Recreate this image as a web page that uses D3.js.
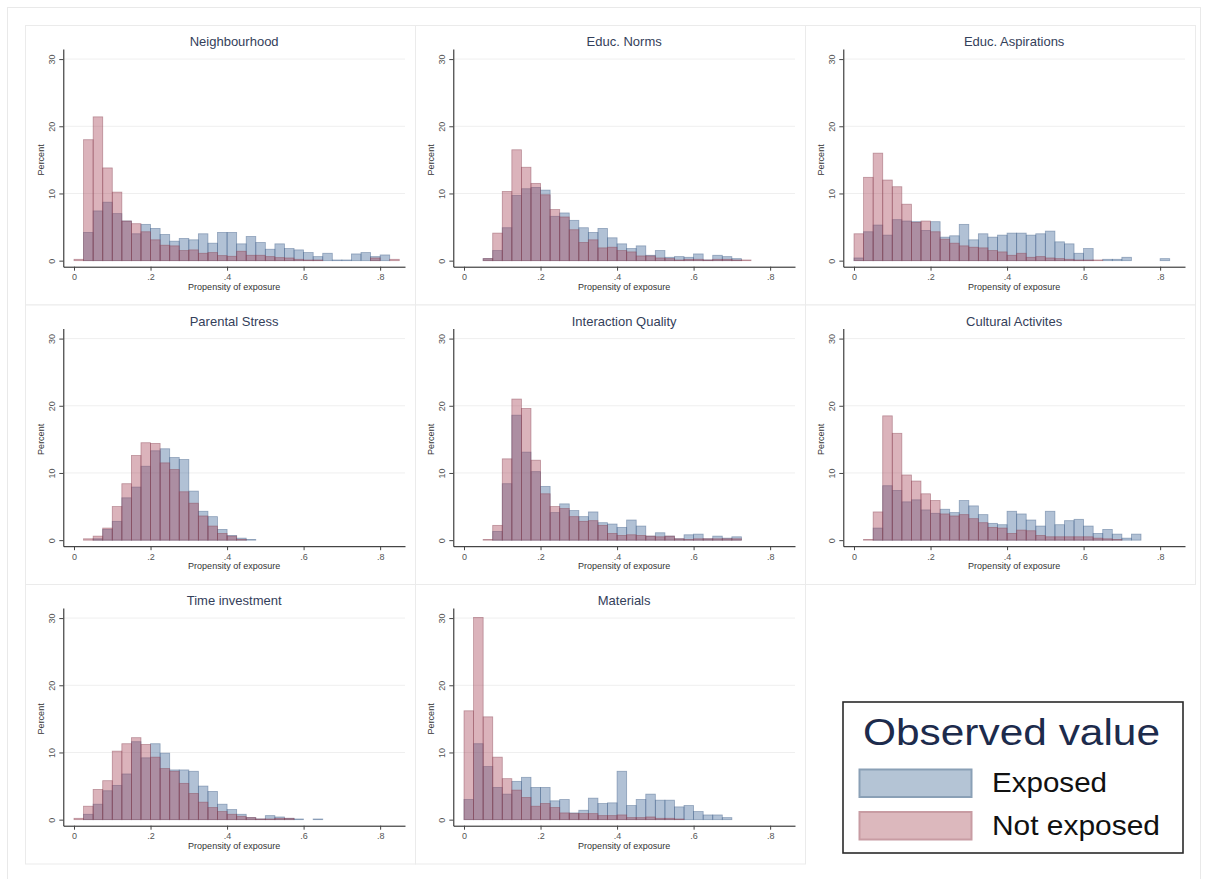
<!DOCTYPE html>
<html>
<head>
<meta charset="utf-8">
<script src="https://cdn.jsdelivr.net/npm/d3@7"></script>
<style>
  html, body { margin: 0; padding: 0; background: #fff; }
  svg { display: block; font-family: "Liberation Sans", Arial, sans-serif; }
</style>
</head>
<body>
<svg id="chart" width="1208" height="879"></svg>
<script>
// bins are 0.025 wide, starting at 0
const binWidth = 0.025;

const panelTitles = [
  "Neighbourhood", "Educ. Norms", "Educ. Aspirations",
  "Parental Stress", "Interaction Quality", "Cultural Activites",
  "Time investment", "Materials"
];

const neighbourhoodExposed    = [0, 4.2, 7.4, 8.7, 7.0, 5.9, 4.0, 5.4, 4.8, 3.9, 2.9, 3.3, 3.1, 4.0, 2.6, 4.2, 4.2, 2.5, 3.6, 2.7, 1.7, 2.5, 1.8, 1.6, 1.2, 0.6, 1.1, 0.1, 0.1, 1.0, 1.2, 0.6, 0.85, 0];
const neighbourhoodNotExposed = [0.2, 18.0, 21.4, 13.8, 10.2, 5.9, 5.5, 4.3, 3.1, 2.3, 2.2, 1.5, 1.6, 1.1, 1.2, 0.75, 0.65, 1.4, 0.8, 0.8, 0.6, 0.45, 0.4, 0.2, 0.1, 0.1, 0, 0, 0, 0, 0, 0.4, 0, 0.2];

const normsExposed    = [0, 0, 0.3, 1.5, 4.9, 9.7, 10.7, 10.9, 10.5, 6.6, 7.1, 6.0, 4.9, 4.2, 4.8, 3.4, 2.5, 1.8, 2.2, 0.8, 1.5, 0.5, 0.6, 0.5, 1.0, 0.1, 0.8, 0.6, 0.3, 0];
const normsNotExposed = [0, 0, 0.3, 4.1, 10.3, 16.5, 13.9, 11.5, 9.8, 7.6, 6.5, 4.6, 2.7, 3.1, 1.9, 2.0, 1.5, 1.3, 0.7, 0.7, 0.4, 0.3, 0.1, 0.2, 0.2, 0.1, 0.2, 0.2, 0.1, 0.1];

const aspirationsExposed    = [0.4, 4.3, 5.3, 3.8, 6.1, 5.9, 5.8, 4.5, 5.8, 3.5, 3.7, 5.4, 3.1, 4.0, 3.5, 3.8, 4.1, 4.1, 3.8, 4.0, 4.4, 2.8, 2.5, 1.1, 1.8, 0, 0.2, 0.2, 0.5, 0, 0, 0, 0.3];
const aspirationsNotExposed = [4.0, 12.4, 16.0, 12.0, 11.0, 8.4, 5.7, 5.9, 4.3, 3.2, 2.6, 2.2, 2.0, 1.9, 1.5, 1.3, 0.8, 1.1, 0.5, 0.6, 0.4, 0.3, 0.2, 0.1, 0.1, 0.1];

const stressExposed    = [0, 0, 0.2, 1.6, 2.8, 6.3, 7.9, 11.0, 13.3, 13.6, 12.3, 12.0, 7.3, 4.3, 3.5, 1.6, 0.7, 0.3, 0.1];
const stressNotExposed = [0, 0.2, 0.6, 1.8, 5.0, 8.4, 12.6, 14.5, 14.4, 11.5, 10.5, 7.2, 5.5, 3.6, 2.1, 1.0, 0.6, 0.1];

const interactionExposed    = [0, 0, 0, 1.3, 8.4, 18.6, 13.1, 10.2, 8.0, 4.1, 5.4, 4.4, 3.5, 4.2, 2.6, 2.4, 1.9, 3.0, 2.1, 0.6, 1.1, 0.6, 0.2, 0.8, 0.9, 0.2, 0.6, 0.3, 0.5];
const interactionNotExposed = [0, 0, 0.1, 2.2, 12.1, 21.0, 19.6, 11.9, 6.9, 5.0, 4.7, 3.5, 2.8, 2.9, 2.2, 1.0, 0.7, 0.8, 0.7, 0.6, 0.5, 0.6, 0.2, 0.1, 0.2, 0.2, 0.2, 0.2, 0.2];

const culturalExposed    = [0, 0, 1.8, 8.1, 7.4, 5.7, 6.0, 4.5, 4.0, 4.6, 4.1, 5.9, 5.1, 3.8, 2.5, 2.3, 4.3, 3.9, 3.0, 2.1, 4.3, 2.3, 2.9, 3.1, 2.1, 1.0, 1.6, 0.9, 0.3, 0.9];
const culturalNotExposed = [0, 0.1, 4.2, 18.5, 15.9, 9.7, 8.8, 6.9, 5.9, 3.9, 3.6, 3.8, 3.2, 2.6, 1.9, 1.8, 1.0, 1.5, 1.4, 0.7, 0.5, 0.5, 0.5, 0.5, 0.5, 0.3, 0.2, 0.1];

const timeExposed    = [0, 0.8, 2.3, 4.3, 5.1, 6.8, 11.6, 9.2, 11.3, 9.9, 7.4, 7.4, 7.2, 5.0, 4.2, 2.3, 1.5, 0.8, 0.3, 0.1, 0.6, 0.4, 0.2, 0.1, 0, 0.1];
const timeNotExposed = [0.2, 2.0, 4.5, 5.8, 10.2, 11.3, 12.2, 11.2, 9.3, 7.6, 7.2, 5.4, 3.9, 2.6, 1.8, 1.2, 0.8, 0.5, 0.3, 0.1, 0.1, 0.2, 0.2];

const materialsExposed    = [3.0, 11.3, 7.9, 4.8, 3.8, 5.7, 6.3, 4.8, 4.8, 2.8, 3.0, 1.0, 1.4, 3.2, 2.4, 2.5, 7.2, 2.1, 3.0, 3.8, 2.9, 2.9, 1.9, 2.1, 1.2, 0.7, 0.7, 0.3];
const materialsNotExposed = [16.2, 30.1, 15.3, 9.3, 6.1, 4.4, 3.3, 2.0, 2.4, 1.8, 1.0, 0.9, 0.9, 0.9, 0.6, 0.6, 0.7, 0.3, 0.3, 0.4, 0.2, 0.2, 0.1];

const exposedSeries = [neighbourhoodExposed, normsExposed, aspirationsExposed, stressExposed,
  interactionExposed, culturalExposed, timeExposed, materialsExposed];
const notExposedSeries = [neighbourhoodNotExposed, normsNotExposed, aspirationsNotExposed, stressNotExposed,
  interactionNotExposed, culturalNotExposed, timeNotExposed, materialsNotExposed];

const xTicks = [0, 0.2, 0.4, 0.6, 0.8];
const xTickLabels = ["0", ".2", ".4", ".6", ".8"];
const yTicks = [0, 10, 20, 30];
const legendLabels = ["Exposed", "Not exposed"];

(function drawPropensityGrid() {
  const svg = d3.select("#chart");

  const blueFill = "rgba(60,100,150,0.40)";
  const blueEdge = "rgba(70,100,140,0.5)";
  const redFill = "rgba(165,65,85,0.40)";
  const redEdge = "rgba(140,70,85,0.5)";

  // outer graph region
  svg.append("rect")
    .attr("x", 7.5).attr("y", 7.5)
    .attr("width", 1193).attr("height", 880)
    .attr("fill", "#fff")
    .attr("stroke", "#e9e9e9");

  const panelW = 390, panelH = 279.5;
  const origin = { x: 25, y: 25 };

  const x = d3.scaleLinear().domain([-0.028, 0.865]).range([38.3, 380]);
  const y = d3.scaleLinear().domain([-0.9, 31.5]).range([241.7, 24]);

  panelTitles.forEach((title, i) => {
    const col = i % 3, row = Math.floor(i / 3);
    const g = svg.append("g")
      .attr("transform", `translate(${origin.x + col * panelW},${origin.y + row * panelH})`);

    g.append("rect")
      .attr("x", 0.5).attr("y", 0.5)
      .attr("width", panelW).attr("height", panelH)
      .attr("fill", "#fff")
      .attr("stroke", "#ebebeb");

    // gridlines
    g.selectAll(".grid")
      .data(yTicks.filter(t => t > 0))
      .enter()
      .append("line")
      .attr("x1", x.range()[0]).attr("x2", x.range()[1])
      .attr("y1", d => y(d)).attr("y2", d => y(d))
      .attr("stroke", "#efefef");

    const drawBars = (values, fill, edge) => {
      g.append("g")
        .selectAll("rect")
        .data(values.map((v, k) => ({ k, v })).filter(d => d.v > 0))
        .enter()
        .append("rect")
        .attr("x", d => x(d.k * binWidth))
        .attr("width", d => x((d.k + 1) * binWidth) - x(d.k * binWidth))
        .attr("y", d => y(d.v))
        .attr("height", d => y(0) - y(d.v))
        .attr("fill", fill)
        .attr("stroke", edge)
        .attr("stroke-width", 0.8);
    };

    drawBars(exposedSeries[i], blueFill, blueEdge);
    drawBars(notExposedSeries[i], redFill, redEdge);

    // axes
    const xAxis = g.append("g")
      .attr("transform", `translate(0,${y.range()[0]})`)
      .call(d3.axisBottom(x).tickValues(xTicks)
        .tickFormat((d, k) => xTickLabels[k])
        .tickSize(4).tickSizeOuter(0).tickPadding(3));

    const yAxis = g.append("g")
      .attr("transform", `translate(${x.range()[0]},0)`)
      .call(d3.axisLeft(y).tickValues(yTicks).tickSize(4).tickSizeOuter(0));

    [xAxis, yAxis].forEach(a => {
      a.select(".domain").attr("stroke", "#1a1a1a");
      a.selectAll(".tick line").attr("stroke", "#444");
      a.selectAll("text")
        .attr("fill", "#555")
        .attr("font-size", "9px")
        .attr("font-family", "Liberation Sans, Arial, sans-serif");
    });

    yAxis.selectAll("text")
      .attr("transform", "rotate(-90)")
      .attr("x", 0)
      .attr("y", -8)
      .attr("dy", 0)
      .attr("text-anchor", "middle");

    g.append("text")
      .attr("x", (x.range()[0] + x.range()[1]) / 2)
      .attr("y", 21)
      .attr("text-anchor", "middle")
      .attr("font-size", "13px")
      .attr("fill", "#34405a")
      .text(title);

    g.append("text")
      .attr("x", (x.range()[0] + x.range()[1]) / 2)
      .attr("y", 264.5)
      .attr("text-anchor", "middle")
      .attr("font-size", "9px")
      .attr("fill", "#333")
      .text("Propensity of exposure");

    g.append("text")
      .attr("transform", `translate(18.5,${(y(0) + y(30)) / 2}) rotate(-90)`)
      .attr("text-anchor", "middle")
      .attr("font-size", "9px")
      .attr("fill", "#333")
      .text("Percent");
  });

  // legend
  const legend = svg.append("g").attr("transform", "translate(843,702)");

  legend.append("rect")
    .attr("width", 340).attr("height", 151)
    .attr("fill", "#fff")
    .attr("stroke", "#2a2a2a")
    .attr("stroke-width", 1.6);

  legend.append("text")
    .attr("x", 20).attr("y", 43)
    .attr("font-size", "36px")
    .attr("fill", "#1d2b4c")
    .attr("textLength", 297)
    .attr("lengthAdjust", "spacingAndGlyphs")
    .text("Observed value");

  const swatchFill = ["#b4c4d5", "#dcb8bd"];
  const swatchEdge = ["#8aa0b6", "#c89ca3"];
  const labelWidths = [115, 168];

  legendLabels.forEach((label, i) => {
    legend.append("rect")
      .attr("x", 16.5).attr("y", 67.5 + i * 42.5)
      .attr("width", 112).attr("height", 27.5)
      .attr("fill", swatchFill[i])
      .attr("stroke", swatchEdge[i])
      .attr("stroke-width", 2);

    legend.append("text")
      .attr("x", 149).attr("y", 90 + i * 43)
      .attr("font-size", "28px")
      .attr("fill", "#111")
      .attr("textLength", labelWidths[i])
      .attr("lengthAdjust", "spacingAndGlyphs")
      .text(label);
  });
})();
</script>
</body>
</html>
